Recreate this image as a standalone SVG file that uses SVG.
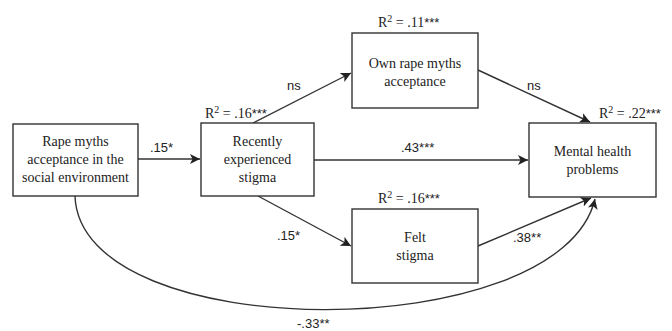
<svg xmlns="http://www.w3.org/2000/svg" width="672" height="331" viewBox="0 0 672 331">
<style>
.box{fill:#fff;stroke:#333;stroke-width:1.4}
.nt{font-family:"Liberation Serif","Times New Roman",serif;font-size:14px;fill:#222;text-anchor:middle}
.r2{font-family:"Liberation Serif","Times New Roman",serif;font-size:14px;fill:#222}
.st{font-family:"Liberation Sans",Arial,sans-serif;font-size:13px}
.cf{font-family:"Liberation Sans",Arial,sans-serif;font-size:13px;fill:#222}
.ln{fill:none;stroke:#333;stroke-width:1.4}
</style>
<defs>
<marker id="ah" viewBox="0 0 10 10" refX="10" refY="5" markerWidth="10" markerHeight="10" markerUnits="userSpaceOnUse" orient="auto">
<path d="M0,0 L10,5 L0,10 L2.5,5 Z" fill="#222"/>
</marker>
</defs>
<g id="connectors">
<line class="ln" x1="138" y1="159" x2="200" y2="159" marker-end="url(#ah)"/>
<line class="ln" x1="253" y1="123" x2="351" y2="73" marker-end="url(#ah)"/>
<line class="ln" x1="478" y1="70" x2="590" y2="122" marker-end="url(#ah)"/>
<line class="ln" x1="314" y1="160" x2="528" y2="160" marker-end="url(#ah)"/>
<line class="ln" x1="258" y1="196" x2="351" y2="246" marker-end="url(#ah)"/>
<line class="ln" x1="478" y1="246" x2="591" y2="198" marker-end="url(#ah)"/>
<path class="ln" d="M75,196 C80,347 560,347 595,199" marker-end="url(#ah)"/>
</g>
<g id="n-social">
<rect class="box" x="13" y="124" width="125" height="72"/>
<text class="nt" x="75.5" y="146">Rape myths</text>
<text class="nt" x="75.5" y="164">acceptance in the</text>
<text class="nt" x="75.5" y="182">social environment</text>
</g>
<g id="n-recent">
<rect class="box" x="201" y="123" width="113" height="73"/>
<text class="nt" x="257.5" y="146">Recently</text>
<text class="nt" x="257.5" y="164">experienced</text>
<text class="nt" x="257.5" y="182">stigma</text>
<text class="r2" x="205" y="118">R<tspan dy="-5" font-size="10">2</tspan><tspan dy="5"> = .16</tspan><tspan class="st">***</tspan></text>
</g>
<g id="n-own">
<rect class="box" x="352" y="33" width="126" height="75"/>
<text class="nt" x="415" y="68">Own rape myths</text>
<text class="nt" x="415" y="86">acceptance</text>
<text class="r2" x="378" y="27">R<tspan dy="-5" font-size="10">2</tspan><tspan dy="5"> = .11</tspan><tspan class="st">***</tspan></text>
</g>
<g id="n-mental">
<rect class="box" x="529" y="123" width="127" height="74"/>
<text class="nt" x="592.5" y="156">Mental health</text>
<text class="nt" x="592.5" y="174">problems</text>
<text class="r2" x="599" y="118">R<tspan dy="-5" font-size="10">2</tspan><tspan dy="5"> = .22</tspan><tspan class="st">***</tspan></text>
</g>
<g id="n-felt">
<rect class="box" x="352" y="209" width="126" height="74"/>
<text class="nt" x="415" y="242">Felt</text>
<text class="nt" x="415" y="260">stigma</text>
<text class="r2" x="378" y="203">R<tspan dy="-5" font-size="10">2</tspan><tspan dy="5"> = .16</tspan><tspan class="st">***</tspan></text>
</g>
<g id="labels">
<text class="cf" x="150" y="152">.15*</text>
<text class="cf" x="287" y="90">ns</text>
<text class="cf" x="527" y="90">ns</text>
<text class="cf" x="401" y="152">.43***</text>
<text class="cf" x="277" y="240">.15*</text>
<text class="cf" x="513" y="242">.38**</text>
<text class="cf" x="297" y="328">-.33**</text>
</g>
</svg>
